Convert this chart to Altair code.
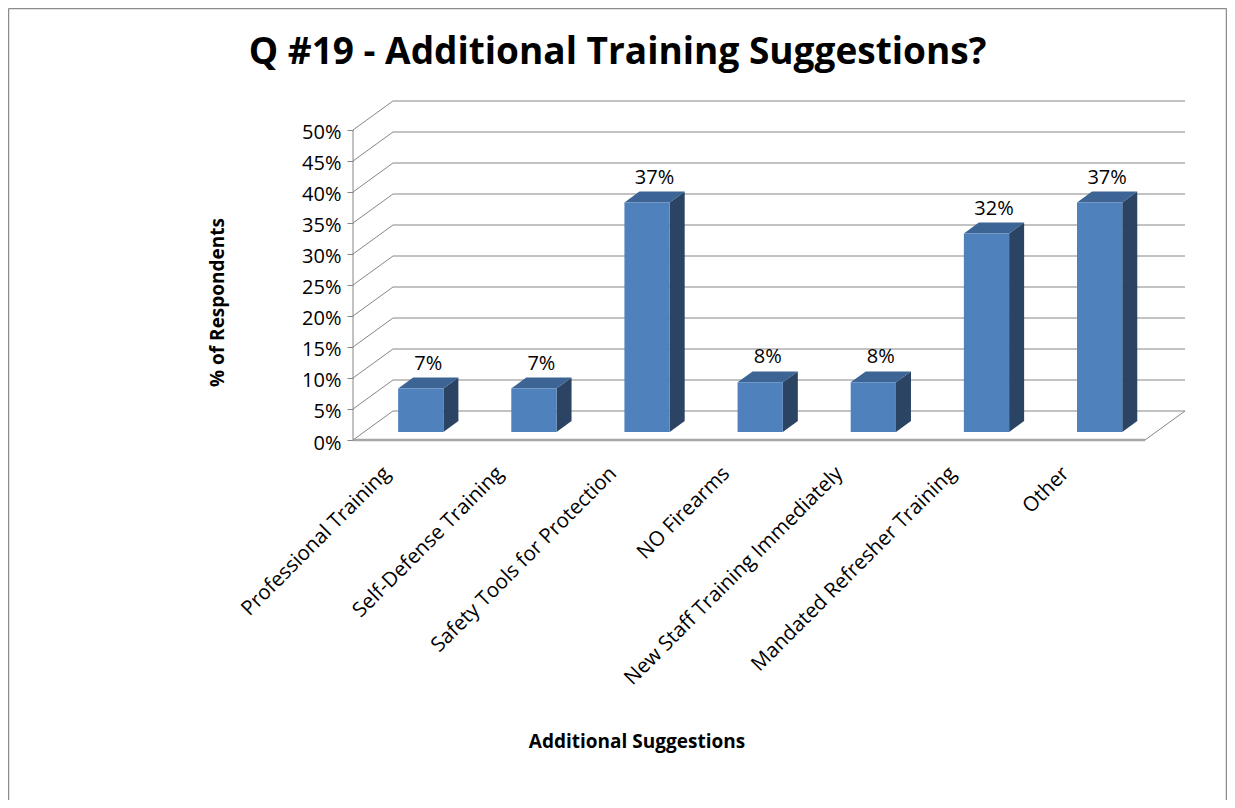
import json
import altair as alt
import pandas as pd

# ---- data ----
categories = [
    "Professional Training",
    "Self-Defense Training",
    "Safety Tools for Protection",
    "NO Firearms",
    "New Staff Training Immediately",
    "Mandated Refresher Training",
    "Other",
]
values = [7, 7, 37, 8, 8, 32, 37]
y_ticks = [0, 5, 10, 15, 20, 25, 30, 35, 40, 45, 50]

# ---- pseudo-3D styling constants (in scale units) ----
N = len(categories)
DX = 0.3535   # depth shift along x (category units)
DY = 4.677    # depth shift along y (percent units)
D0, D1 = 0.28, 0.655   # front/back depth of bars
BW = 0.40     # bar width
FONT = "Open Sans"

front_rows, side_rows, top_rows, label_rows = [], [], [], []
for k, (c, v) in enumerate(zip(categories, values)):
    xl = k + 0.5 + D0 * DX - BW / 2
    xr = xl + BW
    ddx = (D1 - D0) * DX
    ddy = (D1 - D0) * DY
    front_rows.append({"cat": c, "x": xl, "x2": xr, "y": D0 * DY, "y2": v + D0 * DY})
    side_rows += [
        {"cat": c, "x": xr, "y": D0 * DY, "y2": v + D0 * DY},
        {"cat": c, "x": xr + ddx, "y": D0 * DY + ddy, "y2": v + D0 * DY + ddy},
    ]
    top_rows += [
        {"cat": c, "y": v + D0 * DY, "x": xl, "x2": xr},
        {"cat": c, "y": v + D0 * DY + ddy, "x": xl + ddx, "x2": xr + ddx},
    ]
    label_rows.append({"cat": c, "x": k + 0.5 + (D0 + D1) / 2 * DX,
                       "y": v + D1 * DY, "text": f"{v}%"})

front_df = pd.DataFrame(front_rows)
side_df = pd.DataFrame(side_rows)
top_df = pd.DataFrame(top_rows)
label_df = pd.DataFrame(label_rows)

back_grid = pd.DataFrame({"x": DX, "x2": N + DX, "y": [t + DY for t in y_ticks]})
wall_grid = pd.DataFrame({"x": 0.0, "x2": DX, "y": y_ticks, "y2": [t + DY for t in y_ticks]})
floor_front = pd.DataFrame({"x": [0.0], "x2": [float(N)], "y": [0.0]})
floor_side = pd.DataFrame({"x": [float(N)], "x2": [N + DX], "y": [0.0], "y2": [DY]})
yaxis_line = pd.DataFrame({"x": [0.0], "y": [0.0], "y2": [float(y_ticks[-1])]})

xscale = alt.Scale(domain=[0, N + DX], nice=False, zero=False)
yscale = alt.Scale(domain=[0, y_ticks[-1] + DY], nice=False, zero=False)

label_expr = json.dumps(categories) + "[round(datum.value - 0.5)]"
xaxis = alt.Axis(
    values=[k + 0.5 for k in range(N)], labelExpr=label_expr,
    title="Additional Suggestions", domain=False, ticks=False, grid=False,
    labelAngle=-45, labelAlign="right", labelBaseline="middle", labelLimit=0,
    labelPadding=30, labelOffset=-23, labelFont=FONT, labelFontSize=20.5,
    labelColor="black", labelOverlap=False, labelBound=False, labelFlush=False,
    titleFont=FONT, titleFontSize=19, titleFontWeight="bold", titleColor="black",
    titleX=283.5, titleY=301.5, titleAnchor="start", titleAlign="center",
    titleBaseline="middle",
)
yaxis = alt.Axis(
    values=y_ticks, labelExpr="datum.value + '%'", title="% of Respondents",
    domain=False, grid=False, ticks=True, tickSize=6, tickColor="#868686",
    labelPadding=6, labelFont=FONT, labelFontSize=20, labelColor="black",
    labelOffset=3, labelBaseline="middle",
    titleFont=FONT, titleFontSize=19, titleFontWeight="bold", titleColor="black",
    titleX=-136, titleY=201, titleAngle=270, titleAlign="center",
    titleBaseline="middle", titleAnchor="start",
)


def X(f="x"):
    return alt.X(f, type="quantitative", scale=xscale, axis=xaxis)


def Y(f="y"):
    return alt.Y(f, type="quantitative", scale=yscale, axis=yaxis)


GRID = "#868686"

back = alt.Chart(back_grid).mark_rule(color=GRID, strokeWidth=1).encode(
    x=X(), x2="x2", y=Y())
wall = alt.Chart(wall_grid).mark_rule(color=GRID, strokeWidth=1).encode(
    x=X(), x2="x2", y=Y(), y2="y2")
ffront = alt.Chart(floor_front).mark_rule(color="#A6A6A6", strokeWidth=2.5).encode(
    x=X(), x2="x2", y=Y())
fside = alt.Chart(floor_side).mark_rule(color=GRID, strokeWidth=1).encode(
    x=X(), x2="x2", y=Y(), y2="y2")
yline = alt.Chart(yaxis_line).mark_rule(color=GRID, strokeWidth=1).encode(
    x=X(), y=Y(), y2="y2")

side = alt.Chart(side_df).mark_area(orient="vertical", color="#2B4464").encode(
    x=X(), y=Y(), y2="y2", detail="cat:N")
top = alt.Chart(top_df).mark_area(orient="horizontal", color="#3C6494").encode(
    y=Y(), x=X(), x2="x2", detail="cat:N")
front = alt.Chart(front_df).mark_rect(color="#4F81BD").encode(
    x=X(), x2="x2", y=Y(), y2="y2")
labels = alt.Chart(label_df).mark_text(
    font=FONT, fontSize=20, color="black", baseline="bottom", dy=-4
).encode(x=X(), y=Y(), text="text:N")

# outer chart frame
frame_df = pd.DataFrame({"cat": ["frame"]})
frame_l = alt.Chart(frame_df).mark_rule(color="#8C8C8C", strokeWidth=1.5).encode(
    x=alt.value(-344.5), y=alt.value(-92.5), y2=alt.value(700))
frame_t = alt.Chart(frame_df).mark_rule(color="#8C8C8C", strokeWidth=1.5).encode(
    x=alt.value(-344.5), x2=alt.value(873.5), y=alt.value(-92.5))
frame_r = alt.Chart(frame_df).mark_rule(color="#8C8C8C", strokeWidth=1.5).encode(
    x=alt.value(873.5), y=alt.value(-92.5), y2=alt.value(700))

chart = alt.layer(
    back, wall, fside, side, top, front, ffront, yline, labels,
    frame_l, frame_t, frame_r,
).properties(
    width=832, height=339,
    padding={"left": 345, "top": 93, "right": 42, "bottom": 360},
    autosize=alt.AutoSizeParams(type="none"),
    title=alt.TitleParams(
        "Q #19 - Additional Training Suggestions?", font=FONT, fontSize=37,
        fontWeight="bold", color="black", anchor="middle", dx=-151.5,
        offset=0, dy=64,
    ),
    background="white",
).configure_view(stroke=None)

chart.save("out.html", embed_options={"renderer": "svg", "actions": False})
